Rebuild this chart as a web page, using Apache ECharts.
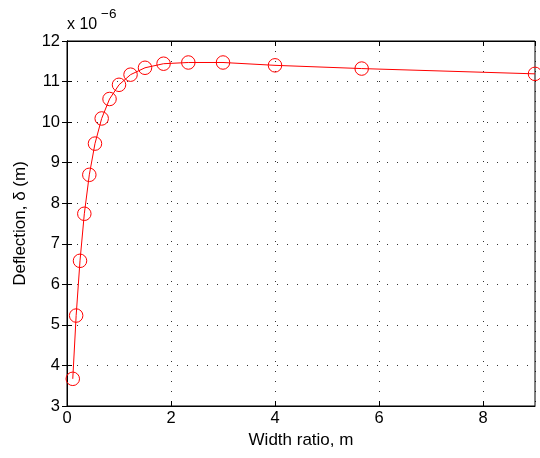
<!DOCTYPE html>
<html>
<head>
<meta charset="utf-8">
<script src="https://cdn.jsdelivr.net/npm/echarts@6/dist/echarts.min.js"></script>
<style>
html,body{margin:0;padding:0;background:#fff;}
#c{width:540px;height:458px;}
</style>
</head>
<body>
<div id="c"></div>
<script>
// Width ratio m (x) and deflection in units of 1e-6 m (y)
var widthRatio = [0.111, 0.176, 0.25, 0.333, 0.429, 0.538, 0.667, 0.818, 1.0, 1.222, 1.5, 1.857, 2.333, 3.0, 4.0, 5.667, 9.0];
var deflection = [3.67, 5.23, 6.58, 7.74, 8.70, 9.47, 10.09, 10.57, 10.92, 11.17, 11.34, 11.44, 11.47, 11.47, 11.40, 11.32, 11.19];
var xTicks = [0, 2, 4, 6, 8];
var yTicks = [3, 4, 5, 6, 7, 8, 9, 10, 11, 12];

var pts = widthRatio.map(function (x, i) { return [x, deflection[i]]; });
var font = 'Liberation Sans, Arial, Helvetica, sans-serif';

var chart = echarts.init(document.getElementById('c'), null, {renderer: 'canvas'});
var gridLine = {show: true, lineStyle: {color: '#000', type: [1, 9], width: 1, opacity: 0.8}};
chart.setOption({
  animation: false,
  backgroundColor: '#fff',
  grid: {left: 67, right: 5, top: 41, bottom: 52, show: true, borderColor: '#000', borderWidth: 1, backgroundColor: 'transparent'},
  xAxis: [{
    type: 'value', min: 0, max: 9, interval: 2,
    name: 'Width ratio, m', nameLocation: 'middle', nameGap: 25,
    nameTextStyle: {color: '#000', fontSize: 17, fontFamily: font},
    axisLine: {show: true, lineStyle: {color: '#000', width: 1}},
    axisTick: {show: true, inside: true, length: 5, lineStyle: {color: '#000'}},
    axisLabel: {color: '#000', fontSize: 16.5, fontFamily: font, margin: 4, showMaxLabel: false,
      formatter: function (v) { return xTicks.indexOf(v) >= 0 ? String(v) : ''; }},
    splitLine: gridLine
  }, {
    type: 'value', min: 0, max: 9, interval: 2, position: 'top',
    axisLine: {show: true, lineStyle: {color: '#000', width: 1}},
    axisTick: {show: true, inside: true, length: 5, lineStyle: {color: '#000'}},
    axisLabel: {show: false}, splitLine: {show: false}
  }],
  yAxis: [{
    type: 'value', min: 3, max: 12, interval: 1,
    name: 'Deflection, \u03b4 (m)', nameLocation: 'middle', nameGap: 38,
    nameTextStyle: {color: '#000', fontSize: 17, fontFamily: font},
    axisLine: {show: true, lineStyle: {color: '#000', width: 1}},
    axisTick: {show: true, inside: true, length: 5, lineStyle: {color: '#000'}},
    axisLabel: {color: '#000', fontSize: 16.5, fontFamily: font, margin: 7,
      formatter: function (v) { return yTicks.indexOf(v) >= 0 ? String(v) : ''; }},
    splitLine: gridLine
  }, {
    type: 'value', min: 3, max: 12, interval: 1, position: 'right',
    axisLine: {show: true, lineStyle: {color: '#000', width: 1}},
    axisTick: {show: true, inside: true, length: 5, lineStyle: {color: '#000'}},
    axisLabel: {show: false}, splitLine: {show: false}
  }],
  graphic: [{
    type: 'text', left: 67, top: 17,
    style: {text: 'x 10', fontSize: 16, fontFamily: font, fill: '#000'}
  }, {
    type: 'text', left: 101, top: 7,
    style: {text: '\u22126', fontSize: 13.5, fontFamily: font, fill: '#000'}
  }],
  series: [{
    type: 'line', data: pts, clip: false,
    lineStyle: {color: '#ff0000', width: 1},
    symbol: 'circle', symbolSize: 13.5, showAllSymbol: true,
    itemStyle: {color: 'rgba(0,0,0,0)', borderColor: '#ff0000', borderWidth: 1},
    emphasis: {disabled: true}
  }]
});
</script>
</body>
</html>
